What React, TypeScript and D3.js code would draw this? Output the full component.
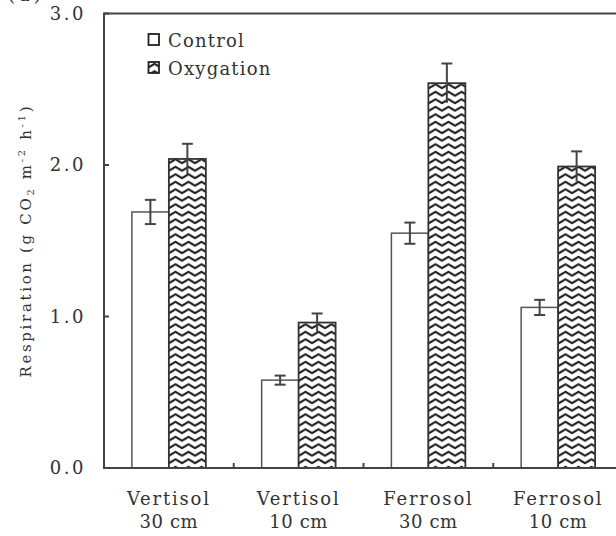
import React from "react";
import * as d3 from "d3";

const categories = ["Vertisol|30 cm", "Vertisol|10 cm", "Ferrosol|30 cm", "Ferrosol|10 cm"];
const seriesNames = ["Control", "Oxygation"];
const controlValues = [1.69, 0.58, 1.55, 1.06];
const controlErrors = [0.08, 0.03, 0.07, 0.05];
const oxyValues = [2.04, 0.96, 2.54, 1.99];
const oxyErrors = [0.1, 0.06, 0.13, 0.1];
const yTicks = [0, 1, 2, 3];

const W = 616;
const H = 536;
const FONT = "'DejaVu Serif', 'Liberation Serif', serif";
const INK = "#333";

export default function App() {
  const x = d3
    .scaleBand<string>()
    .domain(categories)
    .range([104, 623])
    .paddingInner(0.43)
    .paddingOuter(0.215);
  const xs = d3.scaleBand<string>().domain(seriesNames).range([0, x.bandwidth()]).padding(0);
  const y = d3.scaleLinear().domain([0, 3]).range([468, 13.5]);

  const series = [
    { name: seriesNames[0], values: controlValues, errors: controlErrors },
    { name: seriesNames[1], values: oxyValues, errors: oxyErrors },
  ];

  const step = x.step();
  const boundaries = categories.slice(1).map((c) => (x(c) as number) - (step - x.bandwidth()) / 2);
  const fmt = d3.format(".1f");

  return (
    <svg
      width={W}
      height={H}
      style={{ position: "absolute", left: 0, top: 0, display: "block", background: "#fff" }}
    >
      <defs>
        <pattern id="zig" patternUnits="userSpaceOnUse" width={13} height={7.5}>
          <rect width={13} height={7.5} fill="#fff" />
          <path
            d="M-3.25,3.75 L0,5.7 L3.25,3.75 L6.5,1.8 L9.75,3.75 L13,5.7 L16.25,3.75"
            fill="none"
            stroke="#1a1a1a"
            strokeWidth={2}
            strokeLinejoin="round"
          />
        </pattern>
      </defs>

      <text x={8} y={1} fontFamily={FONT} fontSize={18} fill={INK} letterSpacing={4}>
        (a)
      </text>

      {/* bars */}
      {series.map((s, si) =>
        categories.map((c, i) => {
          const bx = (x(c) as number) + (xs(s.name) as number);
          const bw = xs.bandwidth();
          const top = y(s.values[i]);
          return (
            <rect
              key={`${si}-${i}`}
              x={bx}
              y={top}
              width={bw}
              height={y(0) - top}
              fill={si === 0 ? "#fff" : "url(#zig)"}
              stroke={si === 0 ? "#555" : "#333"}
              strokeWidth={si === 0 ? 1.5 : 1.8}
            />
          );
        })
      )}

      {/* error bars */}
      {series.map((s, si) =>
        categories.map((c, i) => {
          const cx = (x(c) as number) + (xs(s.name) as number) + xs.bandwidth() / 2;
          const hi = y(s.values[i] + s.errors[i]);
          const lo = y(s.values[i] - s.errors[i]);
          return (
            <g key={`e${si}-${i}`} stroke="#444" strokeWidth={2}>
              <line x1={cx} x2={cx} y1={hi} y2={lo} />
              <line x1={cx - 5.5} x2={cx + 5.5} y1={hi} y2={hi} />
              {si === 0 && <line x1={cx - 5.5} x2={cx + 5.5} y1={lo} y2={lo} />}
            </g>
          );
        })
      )}

      {/* frame */}
      <rect x={104} y={13.5} width={519} height={y(0) - 13.5} fill="none" stroke="#444" strokeWidth={2} />

      {/* y ticks */}
      {yTicks.map((t) => (
        <g key={`yt${t}`}>
          <line x1={104} x2={109} y1={y(t)} y2={y(t)} stroke="#444" strokeWidth={2} />
          <text
            x={86}
            y={y(t)}
            dy="0.36em"
            textAnchor="end"
            fontFamily={FONT}
            fontSize={18}
            letterSpacing={2.5}
            fill={INK}
          >
            {fmt(t)}
          </text>
        </g>
      ))}

      {/* x ticks */}
      {boundaries.map((bx, i) => (
        <line key={`xt${i}`} x1={bx} x2={bx} y1={y(0)} y2={y(0) - 5} stroke="#444" strokeWidth={2} />
      ))}

      {/* x labels */}
      {categories.map((c) => {
        const [a, b] = c.split("|");
        const cx = (x(c) as number) + x.bandwidth() / 2;
        return (
          <g key={`xl${c}`} fontFamily={FONT} fontSize={18} fill={INK} textAnchor="middle">
            <text x={cx} y={505} letterSpacing={1.8}>
              {a}
            </text>
            <text x={cx} y={528} letterSpacing={0.6}>
              {b}
            </text>
          </g>
        );
      })}

      {/* legend */}
      {series.map((s, si) => (
        <g key={`lg${si}`} transform={`translate(148, ${34 + si * 28})`}>
          <rect
            x={0.5}
            y={0}
            width={10.5}
            height={11}
            fill={si === 0 ? "#fff" : "url(#zig)"}
            stroke="#222"
            strokeWidth={1.8}
          />
          <text x={20} y={13} fontFamily={FONT} fontSize={18} letterSpacing={1.2} fill={INK}>
            {s.name}
          </text>
        </g>
      ))}

      {/* y title */}
      <text
        transform={`translate(31, 242) rotate(-90)`}
        textAnchor="middle"
        fontFamily={FONT}
        fontSize={15}
        textLength={271}
        lengthAdjust="spacing"
        fill={INK}
      >
        Respiration (g CO<tspan fontSize={10} dy={3}>2</tspan>
        <tspan dy={-3}> m</tspan>
        <tspan fontSize={10} dy={-6}>-2</tspan>
        <tspan dy={6}> h</tspan>
        <tspan fontSize={10} dy={-6}>-1</tspan>
        <tspan dy={6}>)</tspan>
      </text>
    </svg>
  );
}
